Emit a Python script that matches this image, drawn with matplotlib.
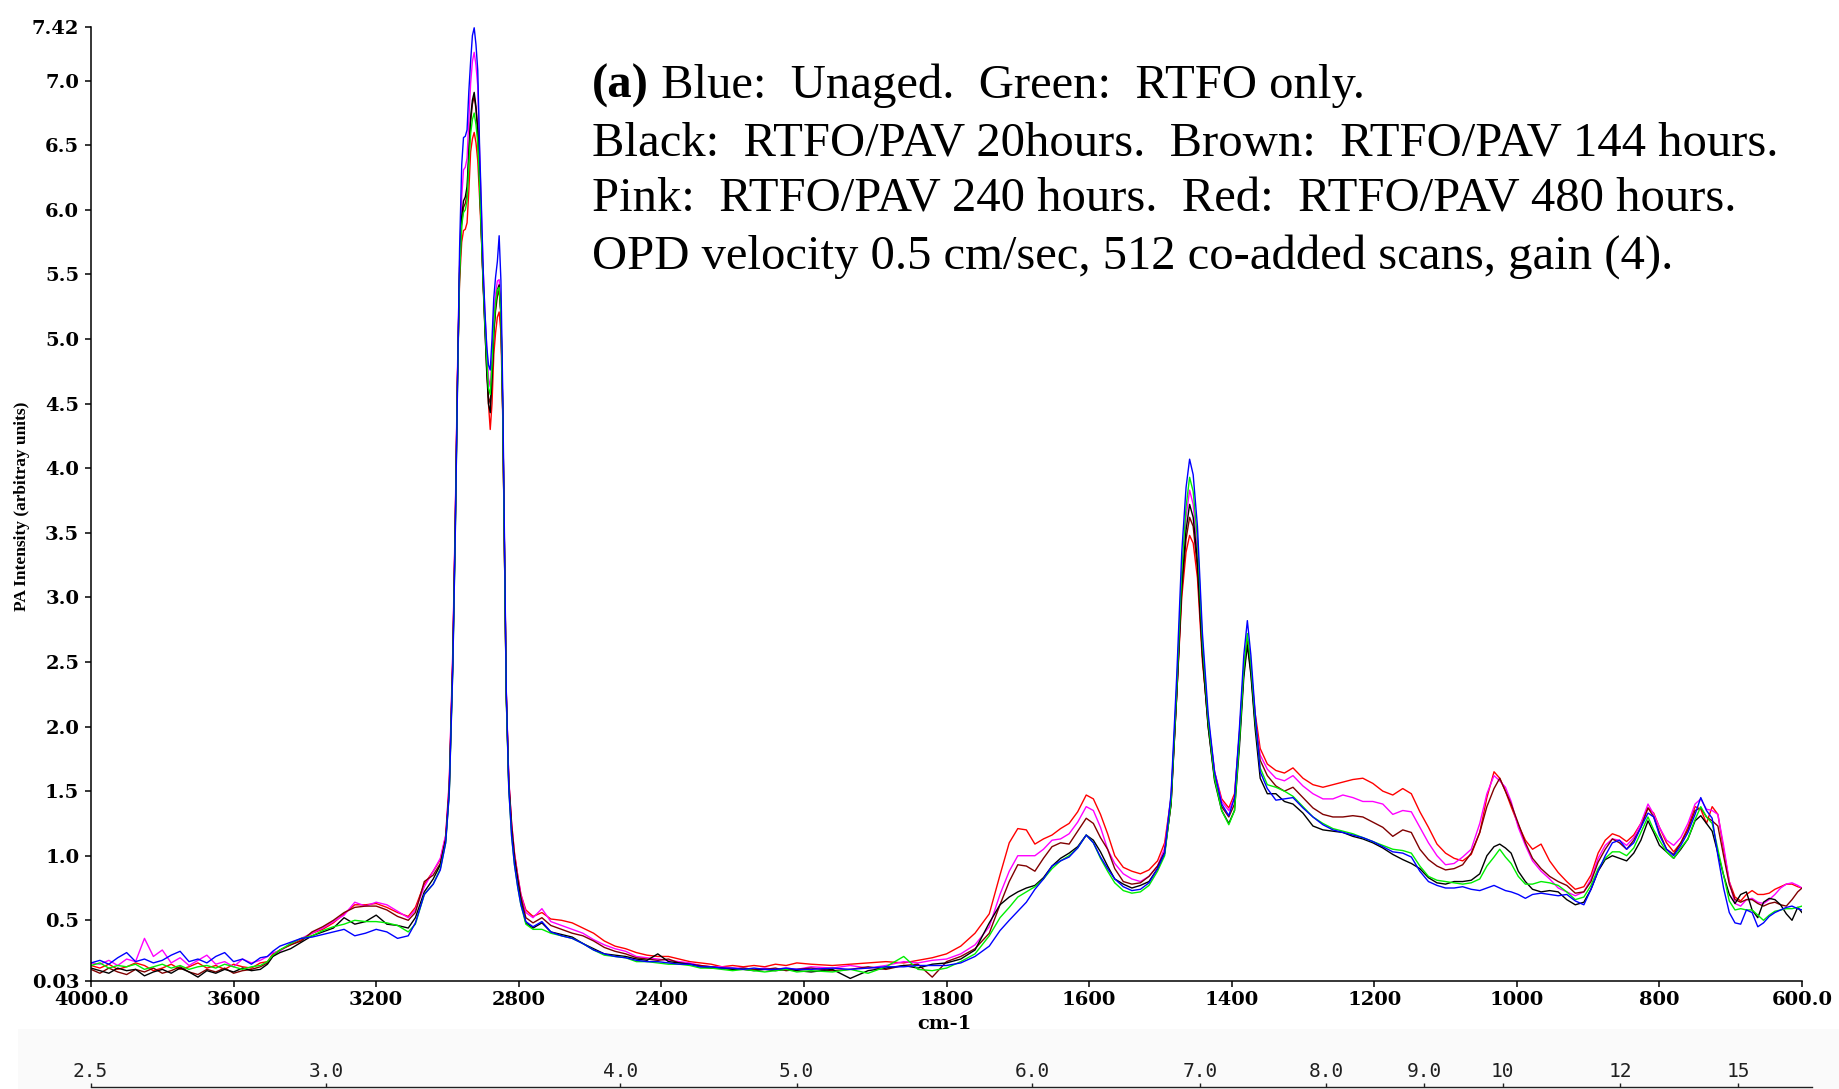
import numpy as np
import matplotlib
matplotlib.use('Agg')
import matplotlib.pyplot as plt
from matplotlib.patches import Rectangle

# wavenumber grid (cm-1), shared by all six spectra
WAVENUMBER = (
    [4000, 3975, 3950, 3925, 3900, 3875, 3850, 3825, 3800, 3775,
     3750, 3725, 3700, 3675, 3650, 3625, 3600, 3575, 3550, 3525, 3505]
    + [3490, 3470, 3440, 3410, 3380, 3350, 3320, 3290, 3260, 3230,
       3200, 3170, 3140, 3110, 3090, 3065, 3040, 3020, 3005, 2995]
    + [2985, 2978, 2972, 2966, 2960, 2955, 2950, 2945, 2940, 2935,
       2930, 2925, 2920, 2915, 2910, 2905, 2900, 2895, 2890, 2885,
       2880, 2875, 2870, 2865, 2860, 2855, 2850, 2845, 2840, 2835,
       2828, 2820, 2812, 2803, 2794]
    + [2780, 2760, 2735, 2710, 2680, 2650, 2620, 2590, 2560, 2530,
       2500, 2470, 2440, 2410, 2380, 2350, 2320, 2290, 2260, 2230,
       2200, 2170, 2140, 2110, 2080, 2050, 2020, 1990, 1960, 1935,
       1910, 1885, 1860, 1840, 1820]
    + [1800, 1780, 1760, 1740, 1725, 1712, 1700, 1688, 1676, 1664,
       1652, 1640, 1628, 1616, 1604, 1594, 1584, 1574, 1564, 1552,
       1540, 1528, 1516, 1504, 1494, 1485, 1477, 1470, 1464, 1459,
       1454, 1448, 1441, 1433, 1424, 1414, 1404, 1396, 1389, 1383,
       1378, 1373, 1367, 1360, 1350, 1338, 1326, 1314, 1300, 1286,
       1272, 1258, 1244, 1230, 1216, 1202, 1188, 1174, 1160, 1148,
       1136, 1124, 1112, 1100, 1088, 1076, 1064, 1052, 1042, 1032,
       1024, 1016, 1008, 998, 988, 978, 966, 954, 942, 930,
       918, 906, 896, 886, 876, 866, 856, 846, 836, 826,
       816, 808, 800, 790, 780, 770, 760, 750, 742, 734,
       726, 718, 710, 702, 694, 686, 678, 670, 662, 654,
       646, 638, 630, 622, 614, 606, 600]
)

# RTFO/PAV 480 hours
RED = (
    [0.15, 0.13, 0.16, 0.12, 0.14, 0.17, 0.15, 0.11, 0.13, 0.16,
     0.12, 0.14, 0.17, 0.13, 0.15, 0.12, 0.16, 0.14, 0.13, 0.17, 0.18]
    + [0.24, 0.27, 0.31, 0.35, 0.40, 0.43, 0.48, 0.55, 0.62, 0.62,
       0.63, 0.60, 0.56, 0.53, 0.60, 0.78, 0.88, 0.97, 1.15, 1.55]
    + [2.55, 3.60, 4.70, 5.45, 5.75, 5.84, 5.85, 5.90, 6.15, 6.45,
       6.55, 6.60, 6.52, 6.38, 6.10, 5.80, 5.45, 5.15, 4.85, 4.50,
       4.30, 4.50, 4.88, 5.05, 5.17, 5.21, 5.05, 4.40, 3.35, 2.25,
       1.58, 1.25, 1.02, 0.85, 0.70]
    + [0.58, 0.53, 0.56, 0.51, 0.50, 0.48, 0.44, 0.40, 0.34, 0.30,
       0.28, 0.25, 0.23, 0.22, 0.22, 0.20, 0.18, 0.17, 0.16, 0.14,
       0.15, 0.14, 0.15, 0.14, 0.16, 0.15, 0.17, 0.16, 0.15, 0.16,
       0.17, 0.18, 0.17, 0.19, 0.21]
    + [0.24, 0.30, 0.40, 0.55, 0.85, 1.10, 1.21, 1.20, 1.09, 1.13,
       1.16, 1.21, 1.25, 1.34, 1.47, 1.44, 1.32, 1.17, 1.00, 0.91,
       0.88, 0.86, 0.89, 0.96, 1.10, 1.45, 2.25, 3.00, 3.35, 3.48,
       3.42, 3.15, 2.50, 2.05, 1.65, 1.44, 1.37, 1.48, 1.95, 2.45,
       2.66, 2.45, 2.10, 1.83, 1.71, 1.66, 1.64, 1.68, 1.60, 1.55,
       1.53, 1.55, 1.57, 1.59, 1.60, 1.56, 1.50, 1.47, 1.52, 1.48,
       1.34, 1.22, 1.09, 1.02, 0.98, 0.96, 1.01, 1.18, 1.45, 1.65,
       1.60, 1.50, 1.38, 1.24, 1.12, 1.05, 1.09, 0.96, 0.87, 0.80,
       0.74, 0.76, 0.85, 1.02, 1.12, 1.17, 1.15, 1.11, 1.16, 1.25,
       1.37, 1.33, 1.22, 1.10, 1.03, 1.10, 1.22, 1.38, 1.36, 1.25,
       1.38, 1.32, 1.05, 0.80, 0.68, 0.65, 0.70, 0.73, 0.70, 0.70,
       0.71, 0.74, 0.76, 0.78, 0.78, 0.76, 0.75]
)

# RTFO/PAV 240 hours
PINK = (
    [0.17, 0.16, 0.19, 0.15, 0.20, 0.18, 0.36, 0.22, 0.27, 0.17,
     0.21, 0.15, 0.19, 0.23, 0.16, 0.18, 0.14, 0.20, 0.17, 0.19, 0.22]
    + [0.25, 0.26, 0.32, 0.36, 0.40, 0.44, 0.49, 0.54, 0.64, 0.61,
       0.64, 0.62, 0.57, 0.52, 0.58, 0.76, 0.88, 0.98, 1.16, 1.58]
    + [2.60, 3.65, 4.75, 5.60, 6.10, 6.31, 6.33, 6.40, 6.70, 6.98,
       7.15, 7.22, 7.12, 6.96, 6.45, 6.00, 5.55, 5.20, 4.95, 4.70,
       4.63, 4.85, 5.20, 5.35, 5.45, 5.46, 5.25, 4.50, 3.40, 2.28,
       1.60, 1.25, 1.02, 0.85, 0.70]
    + [0.56, 0.52, 0.59, 0.49, 0.46, 0.43, 0.40, 0.35, 0.31, 0.28,
       0.26, 0.22, 0.21, 0.20, 0.19, 0.18, 0.17, 0.15, 0.14, 0.14,
       0.13, 0.13, 0.12, 0.13, 0.12, 0.13, 0.12, 0.14, 0.13, 0.15,
       0.13, 0.15, 0.18, 0.17, 0.19]
    + [0.20, 0.24, 0.31, 0.45, 0.70, 0.88, 1.00, 1.00, 1.00, 1.05,
       1.12, 1.13, 1.17, 1.26, 1.38, 1.35, 1.22, 1.05, 0.94, 0.86,
       0.82, 0.80, 0.84, 0.92, 1.06, 1.45, 2.30, 3.15, 3.62, 3.83,
       3.72, 3.35, 2.60, 2.05, 1.65, 1.42, 1.35, 1.45, 1.95, 2.45,
       2.68, 2.45, 2.05, 1.78, 1.67, 1.60, 1.58, 1.62, 1.54, 1.48,
       1.44, 1.44, 1.47, 1.45, 1.42, 1.42, 1.40, 1.32, 1.35, 1.34,
       1.22, 1.10, 1.00, 0.93, 0.94, 0.99, 1.05, 1.25, 1.48, 1.62,
       1.58, 1.53, 1.42, 1.22, 1.08, 0.96, 0.88, 0.82, 0.75, 0.72,
       0.69, 0.72, 0.82, 0.98, 1.08, 1.13, 1.12, 1.08, 1.14, 1.25,
       1.40, 1.32, 1.22, 1.12, 1.08, 1.14, 1.25, 1.40, 1.44, 1.36,
       1.35, 1.32, 1.08, 0.80, 0.63, 0.61, 0.66, 0.67, 0.64, 0.63,
       0.66, 0.70, 0.75, 0.78, 0.79, 0.77, 0.75]
)

# RTFO/PAV 144 hours
BROWN = (
    [0.12, 0.09, 0.13, 0.10, 0.08, 0.12, 0.10, 0.13, 0.09, 0.11,
     0.14, 0.10, 0.08, 0.12, 0.10, 0.13, 0.09, 0.11, 0.12, 0.14, 0.17]
    + [0.22, 0.27, 0.31, 0.34, 0.41, 0.45, 0.50, 0.56, 0.60, 0.61,
       0.61, 0.58, 0.53, 0.50, 0.56, 0.80, 0.85, 0.94, 1.13, 1.52]
    + [2.52, 3.58, 4.68, 5.50, 5.90, 6.02, 6.05, 6.12, 6.40, 6.68,
       6.82, 6.88, 6.78, 6.60, 6.22, 5.82, 5.42, 5.08, 4.78, 4.55,
       4.50, 4.72, 5.05, 5.22, 5.33, 5.38, 5.18, 4.45, 3.38, 2.26,
       1.58, 1.23, 1.00, 0.83, 0.68]
    + [0.52, 0.48, 0.52, 0.46, 0.43, 0.40, 0.38, 0.34, 0.29, 0.26,
       0.24, 0.21, 0.20, 0.19, 0.20, 0.17, 0.16, 0.15, 0.14, 0.13,
       0.12, 0.13, 0.12, 0.12, 0.13, 0.11, 0.12, 0.13, 0.11, 0.12,
       0.14, 0.12, 0.15, 0.16, 0.06]
    + [0.18, 0.22, 0.28, 0.40, 0.62, 0.80, 0.93, 0.92, 0.88, 0.98,
       1.07, 1.10, 1.09, 1.19, 1.29, 1.25, 1.14, 1.05, 0.90, 0.80,
       0.78, 0.79, 0.84, 0.92, 1.03, 1.40, 2.25, 3.05, 3.45, 3.62,
       3.55, 3.22, 2.55, 2.00, 1.60, 1.38, 1.30, 1.40, 1.90, 2.42,
       2.66, 2.42, 2.02, 1.74, 1.62, 1.54, 1.50, 1.53, 1.45, 1.37,
       1.32, 1.30, 1.30, 1.31, 1.30, 1.26, 1.22, 1.15, 1.20, 1.18,
       1.05, 0.97, 0.92, 0.89, 0.90, 0.93, 1.02, 1.18, 1.38, 1.52,
       1.60, 1.50, 1.40, 1.25, 1.10, 0.98, 0.90, 0.84, 0.80, 0.77,
       0.71, 0.72, 0.80, 0.95, 1.05, 1.13, 1.10, 1.05, 1.12, 1.22,
       1.37, 1.30, 1.18, 1.05, 1.01, 1.10, 1.20, 1.35, 1.37, 1.30,
       1.27, 1.23, 1.00, 0.78, 0.66, 0.64, 0.66, 0.66, 0.63, 0.61,
       0.63, 0.64, 0.62, 0.61, 0.66, 0.72, 0.75]
)

# RTFO/PAV 20 hours
BLACK = (
    [0.13, 0.11, 0.09, 0.13, 0.11, 0.12, 0.07, 0.10, 0.12, 0.09,
     0.13, 0.10, 0.06, 0.11, 0.09, 0.12, 0.10, 0.13, 0.11, 0.12, 0.16]
    + [0.22, 0.25, 0.28, 0.33, 0.38, 0.41, 0.44, 0.52, 0.47, 0.49,
       0.54, 0.47, 0.46, 0.44, 0.52, 0.72, 0.82, 0.93, 1.12, 1.50]
    + [2.50, 3.55, 4.65, 5.55, 5.95, 6.07, 6.10, 6.18, 6.45, 6.72,
       6.85, 6.91, 6.80, 6.62, 6.25, 5.85, 5.45, 5.10, 4.75, 4.50,
       4.43, 4.70, 5.05, 5.25, 5.38, 5.42, 5.20, 4.45, 3.35, 2.22,
       1.55, 1.20, 0.97, 0.80, 0.65]
    + [0.48, 0.44, 0.48, 0.41, 0.39, 0.37, 0.32, 0.28, 0.24, 0.23,
       0.22, 0.20, 0.19, 0.24, 0.18, 0.17, 0.16, 0.14, 0.13, 0.13,
       0.12, 0.12, 0.11, 0.12, 0.11, 0.12, 0.11, 0.10, 0.12, 0.05,
       0.11, 0.13, 0.15, 0.13, 0.16]
    + [0.17, 0.20, 0.27, 0.48, 0.62, 0.68, 0.72, 0.75, 0.77, 0.83,
       0.92, 0.98, 1.02, 1.07, 1.16, 1.12, 1.03, 0.92, 0.82, 0.78,
       0.75, 0.77, 0.80, 0.90, 1.02, 1.40, 2.25, 3.10, 3.52, 3.72,
       3.62, 3.28, 2.55, 2.00, 1.58, 1.35, 1.25, 1.35, 1.85, 2.38,
       2.63, 2.40, 1.98, 1.60, 1.48, 1.48, 1.42, 1.40, 1.33, 1.23,
       1.20, 1.19, 1.18, 1.15, 1.13, 1.10, 1.06, 1.01, 0.97, 0.94,
       0.90, 0.83, 0.79, 0.78, 0.80, 0.80, 0.81, 0.86, 1.00, 1.07,
       1.09, 1.06, 1.02, 0.88, 0.80, 0.74, 0.72, 0.73, 0.72, 0.66,
       0.62, 0.64, 0.74, 0.88, 0.97, 1.00, 0.98, 0.96, 1.02, 1.12,
       1.27, 1.18, 1.08, 1.03, 0.98, 1.05, 1.13, 1.27, 1.31, 1.25,
       1.19, 1.02, 0.85, 0.70, 0.63, 0.70, 0.72, 0.58, 0.52, 0.64,
       0.67, 0.66, 0.62, 0.55, 0.50, 0.60, 0.56]
)

# RTFO only
GREEN = (
    [0.15, 0.17, 0.13, 0.15, 0.14, 0.16, 0.12, 0.14, 0.16, 0.13,
     0.15, 0.12, 0.14, 0.15, 0.13, 0.16, 0.14, 0.12, 0.14, 0.15, 0.18]
    + [0.23, 0.27, 0.32, 0.36, 0.38, 0.42, 0.45, 0.47, 0.50, 0.49,
       0.49, 0.48, 0.46, 0.41, 0.47, 0.70, 0.78, 0.90, 1.10, 1.48]
    + [2.45, 3.50, 4.60, 5.50, 5.88, 5.98, 6.00, 6.07, 6.35, 6.59,
       6.70, 6.75, 6.66, 6.52, 6.20, 5.82, 5.45, 5.12, 4.85, 4.62,
       4.57, 4.80, 5.10, 5.28, 5.38, 5.40, 5.20, 4.45, 3.35, 2.22,
       1.52, 1.15, 0.93, 0.76, 0.62]
    + [0.47, 0.43, 0.43, 0.40, 0.38, 0.36, 0.32, 0.27, 0.23, 0.22,
       0.21, 0.18, 0.18, 0.17, 0.16, 0.16, 0.15, 0.13, 0.13, 0.12,
       0.11, 0.12, 0.11, 0.10, 0.11, 0.12, 0.10, 0.11, 0.10, 0.12,
       0.09, 0.14, 0.22, 0.12, 0.11]
    + [0.13, 0.18, 0.24, 0.38, 0.52, 0.60, 0.68, 0.72, 0.76, 0.82,
       0.90, 0.96, 1.00, 1.06, 1.16, 1.10, 0.98, 0.88, 0.79, 0.73,
       0.71, 0.72, 0.77, 0.88, 1.00, 1.42, 2.30, 3.20, 3.70, 3.93,
       3.82, 3.45, 2.65, 2.05, 1.60, 1.35, 1.24, 1.35, 1.90, 2.45,
       2.72, 2.48, 2.05, 1.68, 1.55, 1.53, 1.50, 1.46, 1.38, 1.30,
       1.25, 1.21, 1.19, 1.17, 1.14, 1.11, 1.08, 1.05, 1.04, 1.02,
       0.92, 0.84, 0.81, 0.80, 0.79, 0.78, 0.79, 0.82, 0.92, 0.99,
       1.05, 0.99, 0.94, 0.84, 0.78, 0.78, 0.80, 0.79, 0.77, 0.72,
       0.66, 0.68, 0.77, 0.90, 0.98, 1.03, 1.03, 1.00, 1.06, 1.18,
       1.30, 1.20, 1.12, 1.03, 0.98, 1.06, 1.13, 1.28, 1.38, 1.30,
       1.25, 1.05, 0.85, 0.65, 0.58, 0.59, 0.58, 0.58, 0.54, 0.50,
       0.54, 0.57, 0.58, 0.59, 0.59, 0.60, 0.61]
)

# unaged
BLUE = (
    [0.17, 0.19, 0.16, 0.21, 0.25, 0.18, 0.20, 0.17, 0.19, 0.23,
     0.26, 0.18, 0.20, 0.17, 0.22, 0.25, 0.18, 0.20, 0.16, 0.21, 0.22]
    + [0.26, 0.30, 0.33, 0.36, 0.37, 0.39, 0.41, 0.43, 0.38, 0.40,
       0.43, 0.41, 0.36, 0.38, 0.48, 0.70, 0.78, 0.89, 1.10, 1.48]
    + [2.45, 3.50, 4.62, 5.70, 6.35, 6.56, 6.57, 6.62, 6.92, 7.15,
       7.35, 7.41, 7.28, 7.08, 6.50, 6.05, 5.55, 5.22, 4.95, 4.80,
       4.76, 5.00, 5.32, 5.48, 5.60, 5.80, 5.45, 4.60, 3.45, 2.28,
       1.52, 1.15, 0.93, 0.76, 0.62]
    + [0.49, 0.45, 0.49, 0.41, 0.38, 0.36, 0.32, 0.27, 0.24, 0.22,
       0.21, 0.19, 0.18, 0.18, 0.17, 0.16, 0.16, 0.14, 0.14, 0.13,
       0.13, 0.12, 0.13, 0.12, 0.12, 0.13, 0.12, 0.12, 0.13, 0.12,
       0.13, 0.14, 0.14, 0.15, 0.15]
    + [0.15, 0.17, 0.22, 0.30, 0.42, 0.50, 0.57, 0.64, 0.74, 0.82,
       0.92, 0.96, 0.99, 1.06, 1.16, 1.10, 0.99, 0.90, 0.82, 0.76,
       0.73, 0.74, 0.79, 0.90, 1.02, 1.48, 2.40, 3.35, 3.85, 4.07,
       3.95, 3.55, 2.72, 2.10, 1.65, 1.40, 1.31, 1.45, 2.00, 2.55,
       2.82, 2.55, 2.10, 1.65, 1.52, 1.43, 1.44, 1.45, 1.37, 1.30,
       1.24, 1.20, 1.18, 1.16, 1.14, 1.11, 1.07, 1.03, 1.02, 0.99,
       0.88, 0.80, 0.77, 0.75, 0.75, 0.76, 0.74, 0.73, 0.75, 0.77,
       0.75, 0.73, 0.72, 0.70, 0.67, 0.70, 0.71, 0.70, 0.69, 0.70,
       0.65, 0.62, 0.74, 0.88, 1.00, 1.10, 1.12, 1.05, 1.10, 1.22,
       1.33, 1.30, 1.16, 1.05, 1.00, 1.08, 1.18, 1.32, 1.45, 1.35,
       1.29, 1.00, 0.75, 0.56, 0.48, 0.47, 0.58, 0.56, 0.45, 0.48,
       0.53, 0.56, 0.58, 0.60, 0.61, 0.59, 0.58]
)

X_TICKS = [4000, 3600, 3200, 2800, 2400, 2000, 1800, 1600, 1400, 1200, 1000, 800, 600]
X_TICK_LABELS = ['4000.0', '3600', '3200', '2800', '2400', '2000', '1800',
                 '1600', '1400', '1200', '1000', '800', '600.0']
Y_TICKS = [0.03, 0.5, 1.0, 1.5, 2.0, 2.5, 3.0, 3.5, 4.0, 4.5, 5.0, 5.5, 6.0, 6.5, 7.0, 7.42]
Y_TICK_LABELS = ['0.03', '0.5', '1.0', '1.5', '2.0', '2.5', '3.0', '3.5', '4.0',
                 '4.5', '5.0', '5.5', '6.0', '6.5', '7.0', '7.42']
MICRON_TICKS = [2.5, 3.0, 4.0, 5.0, 6.0, 7.0, 8.0, 9.0, 10, 12, 15]
MICRON_LABELS = ['2.5', '3.0', '4.0', '5.0', '6.0', '7.0', '8.0', '9.0', '10', '12', '15']

NOTE_LINES = [
    ' Blue:  Unaged.  Green:  RTFO only.',
    'Black:  RTFO/PAV 20hours.  Brown:  RTFO/PAV 144 hours.',
    'Pink:  RTFO/PAV 240 hours.  Red:  RTFO/PAV 480 hours.',
    'OPD velocity 0.5 cm/sec, 512 co-added scans, gain (4).',
]

for s in (RED, PINK, BROWN, BLACK, GREEN, BLUE):
    assert len(s) == len(WAVENUMBER)


# spectrometer display: 2000-600 cm-1 drawn at twice the scale of 4000-2000
def _fwd(w):
    w = np.asarray(w, dtype=float)
    return np.where(w >= 2000, w / 2.0, w - 1000.0)


def _inv(u):
    u = np.asarray(u, dtype=float)
    return np.where(u >= 1000, u * 2.0, u + 1000.0)


W, H = 1839, 1089
fig = plt.figure(figsize=(W / 100, H / 100), dpi=100)

# faint strip behind the wavelength ruler
fig.add_artist(Rectangle((18 / W, 0), 1, 60 / H, transform=fig.transFigure,
                         facecolor='#fafafa', edgecolor='none', zorder=-10))

ax = fig.add_axes([91 / W, 1 - 981 / H, (1802 - 91) / W, (981 - 26.5) / H])
ax.set_xscale('function', functions=(_fwd, _inv))

series = [(RED, '#ff0000'), (PINK, '#ff00ff'), (BROWN, '#800000'),
          (BLACK, '#000000'), (GREEN, '#00ee00'), (BLUE, '#0000ff')]
for vals, color in series:
    ax.plot(WAVENUMBER, vals, color=color, lw=1.0)

ax.set_xlim(4000, 600)
ax.set_ylim(0.03, 7.42)
for side in ('top', 'right'):
    ax.spines[side].set_visible(False)
for side in ('left', 'bottom'):
    ax.spines[side].set_linewidth(1.1)

tick_font = dict(fontfamily='DejaVu Serif', fontweight='bold', fontsize=14)
ax.set_xticks(X_TICKS)
ax.set_xticklabels(X_TICK_LABELS, **tick_font)
ax.set_yticks(Y_TICKS)
ax.set_yticklabels(Y_TICK_LABELS, **tick_font)
ax.xaxis.set_minor_locator(matplotlib.ticker.NullLocator())
ax.tick_params(axis='both', direction='out', length=4.5, width=1.1)
ax.tick_params(axis='x', pad=3)
ax.tick_params(axis='y', pad=4)

fig.text(917 / W, 1 - 1024 / H, 'cm-1', ha='left', va='center', **tick_font)
fig.text(22 / W, 1 - 506 / H, 'PA Intensity (arbitray units)', rotation=90,
         ha='center', va='center', fontfamily='Liberation Serif',
         fontweight='bold', fontsize=12.5)

# annotation block
note_font = dict(fontfamily='Liberation Serif', fontsize=35, va='baseline')
baselines = [98, 155, 212, 269]
lead = fig.text(592 / W, 1 - baselines[0] / H, '(a)', fontweight='bold', **note_font)
bb = lead.get_window_extent(fig.canvas.get_renderer())
fig.text(bb.x1 / W, 1 - baselines[0] / H, NOTE_LINES[0], **note_font)
for line, base in zip(NOTE_LINES[1:], baselines[1:]):
    fig.text(592 / W, 1 - base / H, line, **note_font)

# wavelength ruler (micrometres)
ax2 = fig.add_axes([90.6 / W, 0, 1721.4 / W, 2 / H])
ax2.set_xscale('function', functions=(_fwd, _inv))
ax2.set_xlim(4000, 562)
ax2.set_ylim(0, 1)
ax2.patch.set_visible(False)
for side in ('bottom', 'left', 'right'):
    ax2.spines[side].set_visible(False)
ax2.spines['top'].set_linewidth(1.0)
ax2.spines['top'].set_color('#202020')
ax2.set_yticks([])
ax2.xaxis.set_ticks_position('top')
ax2.set_xticks([10000.0 / m for m in MICRON_TICKS])
ax2.set_xticklabels(MICRON_LABELS, fontfamily='DejaVu Sans Mono', fontsize=14,
                    color='#202020')
ax2.xaxis.set_minor_locator(matplotlib.ticker.NullLocator())
ax2.tick_params(axis='x', direction='out', length=3, width=1.0, color='#202020', pad=1)

fig.savefig('out.png', dpi=100)
